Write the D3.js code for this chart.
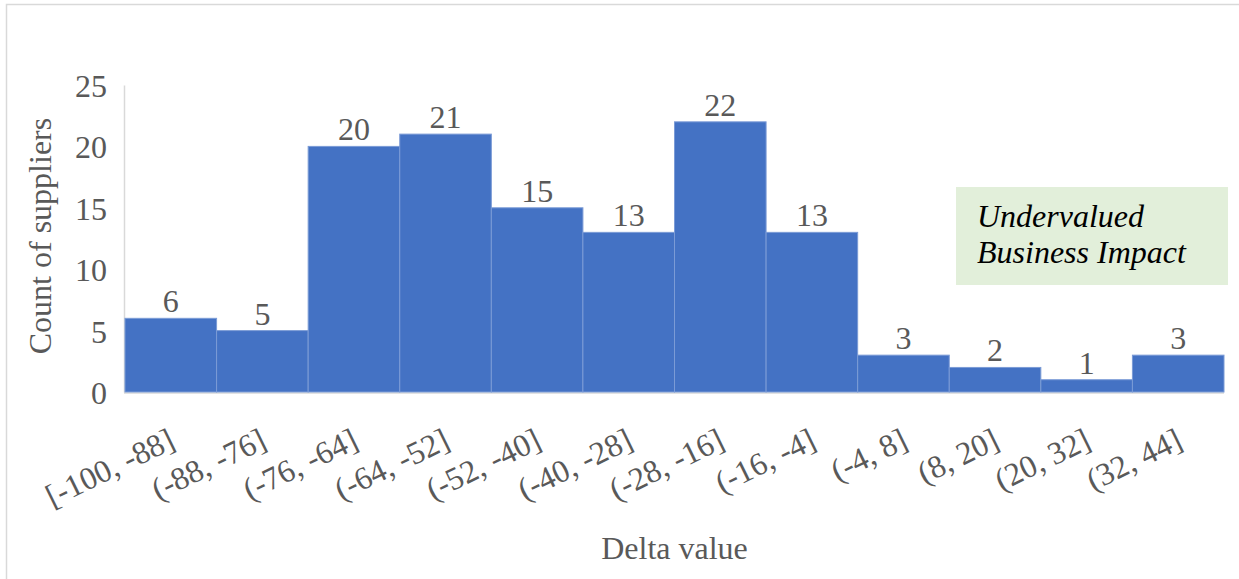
<!DOCTYPE html>
<html>
<head>
<meta charset="utf-8">
<script src="https://cdn.jsdelivr.net/npm/d3@7/dist/d3.min.js"></script>
<style>
  html, body { margin: 0; padding: 0; background: #fff; }
  svg { display: block; }
  svg text { font-family: "Liberation Serif", "Times New Roman", serif !important; }
</style>
</head>
<body>
<svg id="chart" width="1239" height="579"></svg>
<script>
// Histogram bins of supplier delta values
const binLabels = ["[-100, -88]", "(-88, -76]", "(-76, -64]", "(-64, -52]", "(-52, -40]", "(-40, -28]",
                   "(-28, -16]", "(-16, -4]", "(-4, 8]", "(8, 20]", "(20, 32]", "(32, 44]"];
const counts = [6, 5, 20, 21, 15, 13, 22, 13, 3, 2, 1, 3];
const yTicks = [0, 5, 10, 15, 20, 25];
const yTitle = "Count of suppliers";
const xTitle = "Delta value";
const noteLines = ["Undervalued", "Business Impact"];

const svg = d3.select("#chart");
const plot = { left: 125, right: 1224, top: 85, bottom: 392 };
const textColor = "#595959";
const fontSize = 32;

// Outer chart frame
svg.append("rect")
  .attr("x", 6.5).attr("y", 4.5)
  .attr("width", 1300).attr("height", 700)
  .attr("fill", "none").attr("stroke", "#d9d9d9").attr("stroke-width", 1.5);

const x = d3.scaleBand().domain(binLabels).range([plot.left, plot.right]).padding(0);
const y = d3.scaleLinear().domain([0, 25]).range([plot.bottom, plot.top]);

// Y axis
const yAxis = svg.append("g")
  .attr("transform", `translate(${plot.left - 1},0)`)
  .call(d3.axisLeft(y).tickValues(yTicks).tickSize(0).tickPadding(17));
yAxis.select(".domain").attr("stroke", "#d9d9d9").attr("stroke-width", 1.5);
yAxis.selectAll("text")
  .attr("font-size", fontSize)
  .attr("fill", textColor)
  .attr("dy", "0.36em");

// X axis baseline
svg.append("line")
  .attr("x1", plot.left - 1).attr("x2", plot.right)
  .attr("y1", plot.bottom + 1).attr("y2", plot.bottom + 1)
  .attr("stroke", "#d9d9d9").attr("stroke-width", 1.5);

// Bars
svg.append("g").selectAll("rect")
  .data(counts)
  .join("rect")
  .attr("x", (d, i) => x(binLabels[i]))
  .attr("y", d => y(d))
  .attr("width", x.bandwidth())
  .attr("height", d => y(0) - y(d))
  .attr("fill", "#4472c4")
  .attr("stroke", "#7b9bd6")
  .attr("stroke-width", 1);

// Value labels
svg.append("g").selectAll("text")
  .data(counts)
  .join("text")
  .attr("x", (d, i) => x(binLabels[i]) + x.bandwidth() / 2)
  .attr("y", d => y(d) - 6)
  .attr("text-anchor", "middle")
  .attr("font-size", fontSize)
  .attr("fill", textColor)
  .text(d => d);

// Rotated bin labels
svg.append("g").selectAll("text")
  .data(binLabels)
  .join("text")
  .attr("transform", d => `translate(${x(d) + x.bandwidth() / 2 + 6},447) rotate(-26)`)
  .attr("text-anchor", "end")
  .attr("font-size", fontSize)
  .attr("fill", textColor)
  .text(d => d);

// Axis titles
svg.append("text")
  .attr("transform", `translate(51,236) rotate(-90)`)
  .attr("text-anchor", "middle")
  .attr("font-size", fontSize)
  .attr("fill", textColor)
  .text(yTitle);

svg.append("text")
  .attr("x", (plot.left + plot.right) / 2)
  .attr("y", 559)
  .attr("text-anchor", "middle")
  .attr("font-size", fontSize)
  .attr("fill", textColor)
  .text(xTitle);

// Annotation box
const note = svg.append("g");
note.append("rect")
  .attr("x", 956).attr("y", 187)
  .attr("width", 272).attr("height", 98)
  .attr("fill", "#e2efda");
note.selectAll("text")
  .data(noteLines)
  .join("text")
  .attr("x", 977)
  .attr("y", (d, i) => 227 + i * 36)
  .attr("font-size", fontSize)
  .attr("font-style", "italic")
  .attr("fill", "#000")
  .text(d => d);
</script>
</body>
</html>
